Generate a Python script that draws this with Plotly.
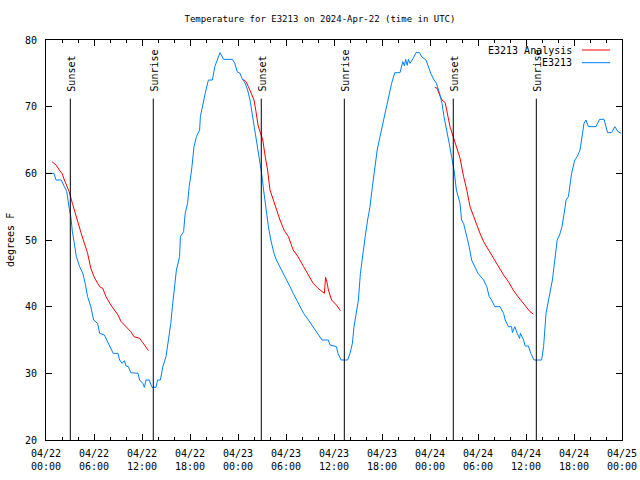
import pandas as pd
import plotly.graph_objects as go

BASE = pd.Timestamp("2024-04-22 00:00")

# Observed station temperature (hours since 04/22 00:00 UTC, degrees F)
obs_hours = [0.0, 1.0, 1.25, 1.9, 2.3, 2.6, 2.9, 3.1, 3.3, 3.55, 3.8, 4.2, 4.6, 4.9, 5.2, 5.6, 5.95,
             6.45, 6.7, 7.3, 7.7, 8.1, 8.4, 9.0, 9.2, 9.5, 9.8, 10.0, 10.3, 10.6, 11.5, 11.7, 12.1,
             12.3, 12.5, 12.9, 13.25, 13.75, 13.95, 14.3, 14.6, 15.0, 15.3, 15.6, 15.8, 16.1, 16.3,
             16.7, 16.8, 17.2, 17.4, 17.7, 17.9, 18.2, 18.5, 18.8, 19.2, 19.3, 19.6, 19.9, 20.3,
             20.8, 21.1, 21.5, 21.75, 22.2, 23.3, 23.6, 23.9, 24.25, 24.5, 24.9, 25.2, 25.5, 25.7,
             26.0, 26.25, 26.5, 26.75, 26.95, 27.2, 27.5, 27.8, 28.1, 28.5, 28.8, 29.25, 29.7, 30.1,
             30.5, 30.9, 31.3, 31.75, 32.2, 32.8, 33.4, 34.0, 34.5, 35.3, 35.5, 36.3, 36.5, 36.9,
             37.7, 38.0, 38.3, 38.5, 38.75, 39.05, 39.3, 39.6, 39.9, 40.2, 40.5, 40.8, 41.1, 41.4,
             41.75, 42.2, 42.6, 42.9, 43.2, 43.6, 44.25, 44.6, 44.8, 44.95, 45.15, 45.3, 45.5, 45.9,
             46.25, 46.7, 46.95, 47.5, 47.8, 48.1, 48.5, 48.8, 49.2, 49.5, 49.75, 50.1, 50.4, 50.7,
             51.0, 51.3, 51.75, 51.95, 52.2, 52.6, 52.9, 53.2, 53.6, 54.0, 54.7, 55.1, 55.4, 55.7,
             56.1, 56.75, 57.2, 57.4, 57.8, 58.2, 58.3, 58.6, 58.9, 59.2, 59.3, 59.7, 59.9, 60.3,
             60.6, 61.0, 61.95, 62.2, 62.5, 62.8, 63.1, 63.3, 63.6, 63.9, 64.2, 64.5, 64.9, 65.0,
             65.3, 65.7, 66.1, 66.4, 66.75, 66.95, 67.25, 67.5, 67.8, 68.75, 69.2, 69.75, 70.2,
             70.7, 71.1, 71.5, 71.9]
obs_temps = [60, 60, 59, 59, 58, 57.25, 54.75, 53.5, 51.25, 49.25, 47.5, 46, 45, 43.5, 41.5, 40, 38,
             37.5, 36, 35.75, 34.75, 34, 33, 33, 32, 31.5, 31.9, 31.1, 31, 30.1, 30, 29, 28.5,
             27.9, 29, 29, 27.9, 27.9, 29, 29, 31, 32.5, 35, 37.5, 40, 43, 45.5,
             47.5, 50.5, 51.25, 54, 55.5, 58, 60.5, 64, 65.5, 66.5, 68.5, 70.5, 72, 74,
             74, 76, 77.5, 78.1, 77.1, 77.1, 76.5, 75.25, 75, 74.25, 73.5, 72.5, 71, 69.5,
             67.5, 65.5, 64, 62, 60, 57.5, 54.5, 52, 50, 48, 47, 46, 45, 44,
             43, 42, 41, 40, 39, 38, 37, 36, 35, 35, 34.25, 34, 33, 32,
             32, 33, 34.5, 37, 39, 41, 45, 48, 50.5, 53, 55, 58, 61, 63.5,
             65.5, 68, 70, 72, 73.5, 75.1, 75.1, 76.75, 76.1, 77.1, 76.2, 77.1, 76.5, 77.25,
             78.1, 78.1, 77.5, 77, 76, 75, 74, 73.5, 72, 70.5, 68.5, 66.5, 64.5, 62.5,
             60.5, 57.5, 55.5, 53, 52.5, 50.5, 49, 47, 46, 45, 44, 43, 41.5, 41,
             40, 40, 39, 38, 37, 37, 36.1, 37, 36, 35.25, 36, 35, 34.1, 34.1,
             33, 32, 32, 34, 39, 41, 42.5, 44, 47, 50, 50.75, 52, 55, 56,
             56.5, 60, 62, 62.5, 63.5, 65, 67.5, 68, 67, 67, 68.1, 68.1, 66.1,
             66.1, 67, 66.25, 66]

# Analysis temperature, three night-time segments
ana1_hours = [0.75, 1.25, 1.67, 2.0, 2.3, 2.6, 2.9, 3.3, 3.67, 3.96, 4.4, 4.8, 5.2, 5.6, 6.0, 6.45,
              6.8, 7.1, 7.5, 8.1, 8.5, 9.0, 9.4, 10.0, 10.6, 11.0, 11.7, 12.1, 12.5, 12.8]
ana1_temps = [61.75, 61.25, 60.5, 60, 59, 58, 57.25, 55.5, 54, 52.5, 51, 49.5, 48, 45.75, 44.5, 43.5,
              42.9, 42.75, 41.5, 40.25, 39.5, 38.75, 37.75, 37, 36.25, 35.5, 35.25, 34.6, 33.9, 33.4]
ana2_hours = [24.67, 25.0, 25.3, 25.7, 26.0, 26.25, 26.5, 26.75, 27.1, 27.4, 27.7, 28.0, 28.4, 28.8,
              29.25, 29.75, 30.3, 30.9, 31.5, 32.2, 32.8, 33.4, 34.0, 34.5, 34.8, 34.95, 35.1,
              35.3, 35.5, 35.7, 36.3, 36.8]
ana2_temps = [74.1, 73.75, 73, 71.75, 71, 69.25, 67.25, 66.25, 65, 62.5, 60.5, 57.5, 56, 54.5,
              53, 51.5, 50.5, 48.5, 47.5, 46, 44.75, 43.5, 42.75, 42.25, 42, 44.4, 43.8,
              42.5, 41.6, 41, 40.25, 39.4]
ana3_hours = [48.6, 48.9, 49.2, 49.5, 49.9, 50.2, 50.5, 50.9, 51.3, 51.75, 52.2, 52.6, 53.0, 53.6,
              54.25, 54.7, 55.3, 55.9, 56.5, 57.2, 57.8, 58.4, 59.0, 59.7, 60.1, 60.5, 60.9]
ana3_temps = [72.9, 72.75, 71.75, 71, 70.6, 69, 67, 65.5, 64, 62.3, 59.5, 57.5, 55, 53,
              51, 49.75, 48.5, 47.25, 46, 44.75, 43.75, 42.5, 41.5, 40.5, 39.9, 39.25, 38.9]

# Sun events (hours since base)
event_hours = [3.04, 13.41, 26.91, 37.29, 50.91, 61.29]
event_labels = ["Sunset", "Sunrise", "Sunset", "Sunrise", "Sunset", "Sunrise"]

tick_hours = [0, 6, 12, 18, 24, 30, 36, 42, 48, 54, 60, 66, 72]
tick_labels = ["04/22<br>00:00", "04/22<br>06:00", "04/22<br>12:00", "04/22<br>18:00",
               "04/23<br>00:00", "04/23<br>06:00", "04/23<br>12:00", "04/23<br>18:00",
               "04/24<br>00:00", "04/24<br>06:00", "04/24<br>12:00", "04/24<br>18:00",
               "04/25<br>00:00"]
y_ticks = [20, 30, 40, 50, 60, 70, 80]

RED = "#ff0000"
BLUE = "#0080ff"
FONT = "DejaVu Sans Mono"


def to_time(hours):
    return [BASE + pd.Timedelta(hours=h) for h in hours]


fig = go.Figure()
for hrs, tmp in [(ana1_hours, ana1_temps), (ana2_hours, ana2_temps), (ana3_hours, ana3_temps)]:
    fig.add_trace(go.Scatter(x=to_time(hrs), y=tmp, mode="lines", name="E3213 Analysis",
                             line=dict(color=RED, width=1), showlegend=False))
fig.add_trace(go.Scatter(x=to_time(obs_hours), y=obs_temps, mode="lines", name="E3213",
                         line=dict(color=BLUE, width=1), showlegend=False))

for h, lab in zip(event_hours, event_labels):
    t = BASE + pd.Timedelta(hours=h)
    fig.add_shape(type="line", xref="x", yref="y", x0=t, x1=t, y0=20, y1=71.2,
                  line=dict(color="black", width=1))
    fig.add_annotation(x=t, y=72, xref="x", yref="y", text=lab, textangle=-90,
                       showarrow=False, xanchor="center", yanchor="bottom", xshift=1,
                       font=dict(family=FONT, size=10, color="black"))

# legend drawn gnuplot-style (text, then sample line)
for i, (name, col) in enumerate([("E3213 Analysis", RED), ("E3213", BLUE)]):
    ypix = 50 + i * 12.7
    yp = (440 - ypix) / 400
    fig.add_annotation(x=(574 - 46) / 576, y=yp, xref="paper", yref="paper", text=name,
                       showarrow=False, xanchor="right", yanchor="middle",
                       font=dict(family=FONT, size=10, color="black"))
    fig.add_shape(type="line", xref="paper", yref="paper", x0=(582 - 46) / 576,
                  x1=(610 - 46) / 576, y0=yp, y1=yp, line=dict(color=col, width=1))

fig.add_annotation(x=(10 - 46) / 576, y=0.5, xref="paper", yref="paper", text="degrees F",
                   textangle=-90, showarrow=False, xanchor="center", yanchor="middle",
                   font=dict(family=FONT, size=10, color="black"))

fig.update_layout(
    width=640, height=480,
    margin=dict(l=46, r=18, t=40, b=40, autoexpand=False),
    paper_bgcolor="white", plot_bgcolor="white",
    font=dict(family=FONT, size=10, color="black"),
    title=dict(text="Temperature for E3213 on 2024-Apr-22 (time in UTC)", x=0.5, xanchor="center",
               y=1 - 19 / 480, yanchor="middle", yref="container",
               font=dict(family=FONT, size=9, color="black")),
    showlegend=False,
)
fig.update_xaxes(
    type="date", range=[BASE, BASE + pd.Timedelta(hours=72)],
    tickvals=to_time(tick_hours), ticktext=tick_labels,
    ticks="inside", ticklen=6, tickcolor="black", tickwidth=1,
    showline=True, linecolor="black", linewidth=1, mirror="ticks",
    showgrid=False, zeroline=False, ticklabelstandoff=4,
    minor=dict(ticks="inside", ticklen=3, tickcolor="black", dtick=2 * 3600 * 1000,
               tick0=BASE, showgrid=False),
    tickfont=dict(family=FONT, size=10, color="black"),
)
fig.update_yaxes(
    range=[20, 80], tickvals=y_ticks,
    ticks="inside", ticklen=6, tickcolor="black", tickwidth=1,
    showline=True, linecolor="black", linewidth=1, mirror="ticks",
    showgrid=False, zeroline=False, ticklabelstandoff=6,
    tickfont=dict(family=FONT, size=10, color="black"),
)

fig.write_html("out.html", config={"displayModeBar": False},
               post_script="document.body.style.margin='0px';")
